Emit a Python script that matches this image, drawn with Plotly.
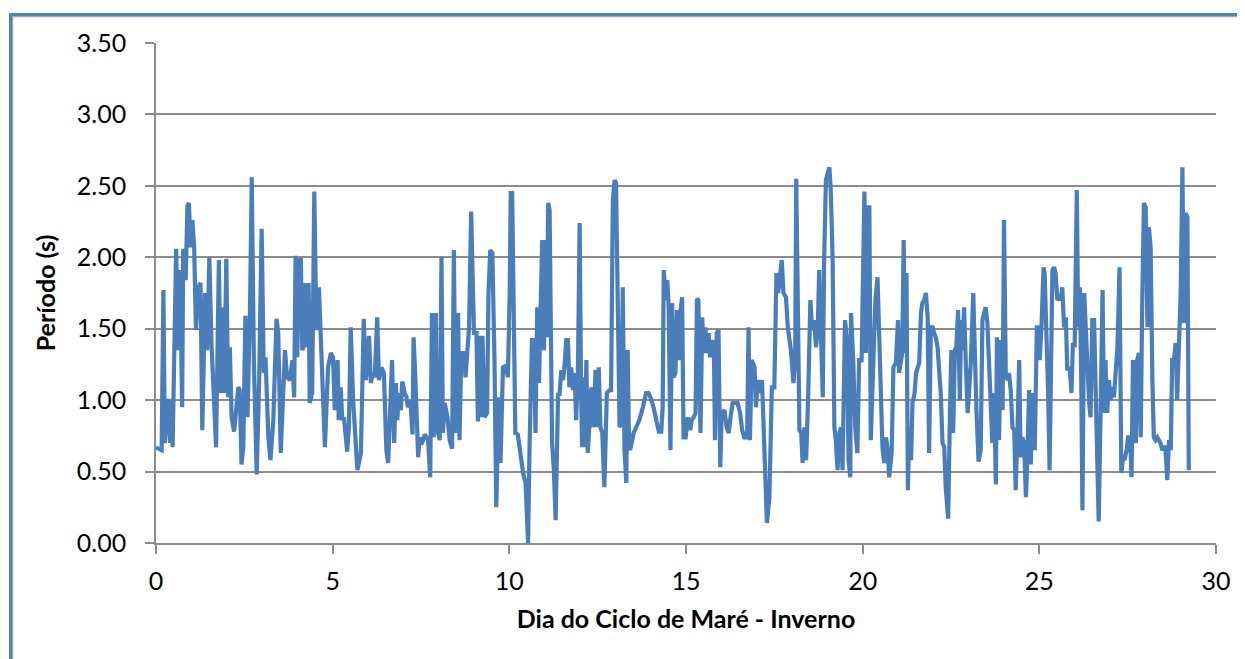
import plotly.graph_objects as go

# Dia do ciclo de maré (inverno) and período (s)
day = [
 0.00,0.16,0.21,0.25,0.35,0.40,0.44,0.47,0.57,0.63,0.68,0.74,0.77,0.84,0.89,0.93,0.98,1.03,1.08,1.13,
 1.20,1.26,1.31,1.39,1.45,1.51,1.57,1.70,1.78,1.83,1.88,1.93,1.99,2.04,2.09,2.14,2.21,2.26,2.33,2.37,
 2.42,2.47,2.53,2.59,2.66,2.71,2.77,2.85,2.92,2.99,3.05,3.10,3.18,3.24,3.32,3.41,3.46,3.53,3.65,3.71,
 3.79,3.86,3.91,3.95,4.00,4.04,4.10,4.14,4.17,4.21,4.28,4.32,4.35,4.42,4.48,4.54,4.61,4.66,4.73,4.78,
 4.87,4.95,5.01,5.06,5.14,5.17,5.23,5.27,5.32,5.41,5.46,5.51,5.58,5.64,5.70,5.80,5.88,5.94,6.03,6.08,
 6.14,6.19,6.26,6.31,6.38,6.45,6.52,6.57,6.63,6.68,6.74,6.79,6.83,6.87,6.93,6.97,7.04,7.09,7.13,7.20,
 7.26,7.29,7.34,7.42,7.46,7.51,7.56,7.61,7.70,7.76,7.81,7.86,7.92,7.95,8.03,8.08,8.12,8.17,8.25,8.31,
 8.38,8.43,8.48,8.55,8.59,8.64,8.72,8.76,8.86,8.92,9.00,9.07,9.11,9.16,9.21,9.24,9.30,9.37,9.41,9.46,
 9.52,9.58,9.63,9.70,9.75,
 9.82,9.90,9.96,10.01,10.04,10.08,10.12,10.17,10.24,10.31,10.39,10.46,10.53,10.57,10.64,10.70,10.74,10.79,10.84,10.88,
 10.93,10.98,11.02,11.06,11.10,11.14,11.17,11.21,11.26,11.31,11.38,11.42,11.47,11.52,11.56,11.61,11.66,11.70,11.75,11.80,
 11.85,11.89,11.94,11.99,12.03,12.06,12.10,12.14,12.18,12.22,12.27,12.32,12.38,12.44,12.49,12.53,12.58,12.63,12.69,12.76,
 12.84,12.88,12.93,12.98,13.02,13.07,13.12,13.17,13.21,13.26,13.31,13.35,13.38,13.42,13.47,13.52,13.59,13.68,13.78,13.87,
 13.94,14.01,14.08,14.16,14.23,14.30,14.34,14.37,14.42,14.47,14.51,14.56,14.61,14.65,
 14.70,14.75,14.79,14.84,14.89,14.93,14.99,15.05,15.12,15.16,15.22,15.27,15.31,15.35,15.41,15.46,15.50,15.55,15.60,15.64,
 15.68,15.74,15.79,15.82,15.87,15.92,15.97,16.01,16.09,16.15,16.21,16.26,16.32,16.40,16.46,16.53,16.59,16.65,16.73,16.77,
 16.81,16.86,16.94,16.98,17.03,17.10,17.15,17.19,17.24,17.29,17.36,17.43,17.50,17.56,17.61,17.67,17.71,17.76,17.83,17.88,
 17.97,18.04,18.09,18.12,18.18,18.21,18.26,18.30,18.35,18.40,18.46,18.52,18.57,18.63,18.68,18.73,18.77,18.82,18.87,18.91,
 18.96,19.01,19.06,19.10,19.15,19.20,19.24,19.29,19.34,19.39,19.43,19.50,19.56,19.60,19.65,
 19.67,19.73,19.79,19.85,19.90,19.97,20.05,20.09,20.14,20.19,20.23,20.30,20.36,20.42,20.47,20.52,20.56,20.61,20.66,20.71,
 20.75,20.82,20.87,20.94,21.00,21.03,21.08,21.12,21.16,21.20,21.24,21.28,21.32,21.37,21.41,21.47,21.51,21.55,21.60,21.65,
 21.69,21.74,21.79,21.84,21.88,21.93,21.98,22.02,22.07,22.12,22.17,22.21,22.26,22.31,22.35,22.42,22.47,22.51,22.56,22.61,
 22.65,22.70,22.75,22.79,22.83,22.87,22.92,22.97,23.01,23.06,23.13,23.17,23.22,23.28,23.34,23.39,23.44,23.48,23.53,23.58,
 23.63,23.67,23.72,23.77,23.80,23.86,23.91,23.96,24.00,24.05,24.10,24.14,24.19,24.24,24.29,24.33,24.38,24.43,24.47,24.52,
 24.57,24.62,
 24.66,24.71,24.76,24.80,24.87,24.93,24.96,25.01,25.06,25.12,25.15,25.20,25.25,25.29,25.32,25.37,25.42,25.46,25.51,25.56,
 25.61,25.65,25.70,25.75,25.79,25.86,25.91,25.95,26.00,26.06,26.10,26.15,26.19,26.22,26.27,26.31,26.36,26.41,26.45,26.50,
 26.55,26.59,26.64,26.68,26.74,26.79,26.83,26.87,26.92,26.97,27.02,27.07,27.11,27.16,27.21,27.27,27.32,27.37,27.41,27.47,
 27.51,27.57,27.61,27.65,27.68,27.73,27.77,27.82,27.87,27.91,27.96,28.01,28.06,28.10,28.15,28.20,28.24,28.29,28.34,28.43,
 28.48,28.53,28.57,28.62,28.67,28.72,28.76,28.81,28.86,28.90,28.95,29.00,29.05,29.09,29.14,29.19,29.23,
]

period = [
 0.67,0.65,1.77,0.70,1.01,0.70,1.00,0.67,2.06,1.35,1.91,0.95,2.06,1.84,2.36,2.38,2.07,2.26,2.07,1.49,
 1.79,1.82,0.79,1.75,1.35,2.00,1.40,0.67,1.98,1.05,1.65,1.05,1.99,1.02,1.37,0.88,0.78,0.91,1.09,1.07,
 0.55,0.67,1.59,0.88,1.63,2.56,1.28,0.48,1.14,2.20,1.19,1.30,0.74,0.58,0.86,1.57,1.47,0.63,1.35,1.16,
 1.14,1.28,1.02,2.01,1.30,1.98,1.98,1.35,1.37,1.82,1.37,1.82,0.98,1.05,2.46,1.49,1.79,1.47,1.02,0.67,
 1.23,1.33,1.30,0.93,1.28,0.86,1.09,0.86,0.88,0.64,0.81,1.51,1.00,0.77,0.51,0.63,1.57,1.14,1.45,1.12,
 1.19,1.16,1.58,1.14,1.23,1.19,0.65,0.56,1.05,1.28,0.70,1.12,0.86,1.05,0.93,1.13,1.05,1.02,0.95,1.00,
 0.76,1.44,1.16,0.60,0.74,0.69,0.72,0.76,0.72,0.46,1.61,0.74,1.61,0.81,0.72,2.00,0.77,0.98,0.88,0.72,
 0.66,2.05,0.77,1.61,0.72,1.33,1.33,1.16,1.51,2.32,1.47,1.47,0.85,1.45,0.88,1.45,0.88,0.91,1.75,2.05,
 2.03,1.28,0.25,1.02,0.56,
 1.23,1.24,1.16,1.75,2.45,2.45,1.75,0.77,0.76,0.63,0.49,0.42,0.00,0.65,1.42,1.42,0.77,1.65,1.12,1.58,
 2.12,1.35,2.12,1.44,2.38,2.33,1.72,0.70,0.51,0.16,1.05,1.03,1.21,1.14,1.23,1.42,1.42,1.09,1.23,1.07,
 1.19,0.86,1.19,2.24,1.07,0.67,1.16,0.67,1.28,0.63,0.84,1.09,0.81,1.21,0.81,1.23,0.81,0.77,0.39,1.05,
 1.07,1.07,2.40,2.54,2.52,1.75,0.81,0.84,1.79,0.65,0.42,1.35,0.81,0.65,0.72,0.77,0.81,0.86,0.95,1.05,
 1.05,1.01,0.95,0.84,0.78,0.78,0.95,1.91,1.70,1.84,1.65,0.65,1.68,1.16,
 1.19,1.63,1.28,1.61,1.72,0.74,0.74,0.88,0.79,0.86,0.88,0.91,1.71,1.70,0.77,1.58,1.33,1.51,1.33,1.47,
 1.30,1.42,1.35,0.72,1.47,1.49,0.53,0.91,0.93,0.81,0.77,0.88,0.98,0.98,0.98,0.91,0.79,0.74,0.74,1.51,
 0.72,1.28,1.23,0.95,1.14,1.05,1.14,0.86,0.58,0.14,0.32,1.09,1.09,1.89,1.75,1.86,1.98,1.75,1.72,1.51,
 1.35,1.12,1.28,2.55,1.40,0.79,0.77,0.56,0.81,0.58,1.05,1.70,1.49,1.56,1.37,1.51,1.91,1.49,1.02,1.98,
 2.54,2.59,2.63,2.45,1.98,0.81,0.72,0.51,0.77,0.81,0.51,1.56,1.42,0.58,0.46,
 1.61,1.30,0.81,0.63,1.28,1.28,2.46,1.33,2.35,2.35,0.72,1.16,1.70,1.86,1.37,0.91,0.67,0.56,0.74,0.65,
 0.46,0.63,1.23,1.26,1.56,1.19,1.30,1.33,2.12,1.33,1.89,0.37,0.81,0.58,0.98,1.05,1.19,1.23,1.26,1.61,
 1.68,1.70,1.75,1.58,0.63,1.51,1.51,1.47,1.44,1.37,1.23,1.05,0.70,0.67,0.39,0.17,0.91,1.35,0.77,1.35,
 1.37,1.63,1.00,1.56,1.35,1.65,1.26,0.91,1.05,1.26,1.75,1.33,0.93,0.57,0.65,1.56,1.63,1.65,1.54,1.28,
 1.05,0.70,1.05,0.41,1.44,0.72,1.42,0.93,2.26,1.19,1.14,1.19,1.07,0.81,0.79,0.37,0.77,1.28,0.60,0.74,
 0.70,0.32,
 0.58,1.07,0.55,1.05,0.65,1.51,1.51,1.28,1.51,1.93,1.89,1.51,1.05,0.51,1.28,1.91,1.93,1.89,1.70,1.72,
 1.70,1.79,1.51,1.58,1.21,1.23,1.05,1.40,1.37,2.47,1.51,1.79,1.05,0.23,1.75,1.51,1.28,0.98,0.88,1.56,
 1.56,1.05,0.65,0.15,1.00,1.77,0.91,1.28,0.91,1.14,1.00,1.09,1.02,1.23,1.37,1.93,0.49,0.60,0.58,0.65,
 0.74,0.74,0.46,1.28,0.74,0.70,1.28,1.33,0.74,1.65,2.38,2.35,1.51,2.21,2.07,1.14,0.74,0.72,0.74,0.70,
 0.65,0.67,0.67,0.44,0.72,0.65,1.28,1.28,1.40,1.00,1.51,1.75,2.63,1.54,2.31,2.28,0.51,
]

x_ticks = [0, 5, 10, 15, 20, 25, 30]
y_ticks = [0.0, 0.5, 1.0, 1.5, 2.0, 2.5, 3.0, 3.5]
x_title = "Dia do Ciclo de Maré - Inverno"
y_title = "Período (s)"

FONT = "Lato, Carlito, Calibri, 'Open Sans', sans-serif"
GRID = "#8c8c8c"

# page body has an 8px margin: figure sized so it fits the window without overflow
FW, FH = 1237, 651
L, T, W, H = 148, 35, 1060, 500

fig = go.Figure()
fig.add_trace(go.Scatter(
    x=day, y=period, mode="lines",
    line=dict(color="#4A7EBB", width=4.2),
    hoverinfo="x+y", showlegend=False,
))

def px_x(fx):
    return (fx - L) / W

def px_y(fy):
    return (T + H - fy) / H

fig.update_layout(
    width=FW, height=FH,
    margin=dict(l=L, r=FW - L - W, t=T, b=FH - T - H),
    paper_bgcolor="white", plot_bgcolor="white",
    font=dict(family=FONT, size=25, color="black"),
    xaxis=dict(
        range=[0, 30], tickvals=x_ticks, ticktext=[str(v) for v in x_ticks],
        showgrid=False, zeroline=False,
        showline=True, linecolor=GRID, linewidth=1.5,
        ticks="outside", ticklen=9, tickcolor=GRID, tickwidth=1.5,
        ticklabelstandoff=6,
        tickfont=dict(size=25),
        title=dict(text=x_title, font=dict(size=25, family=FONT, weight="bold"), standoff=17),
    ),
    yaxis=dict(
        range=[0, 3.5], tickvals=y_ticks, ticktext=[f"{v:.2f}" for v in y_ticks],
        showgrid=True, gridcolor=GRID, gridwidth=1.5, zeroline=False,
        showline=True, linecolor=GRID, linewidth=1.5,
        ticks="outside", ticklen=9, tickcolor=GRID, tickwidth=1.5,
        ticklabelstandoff=14,
        tickfont=dict(size=25),
        title=dict(text=y_title, font=dict(size=25, family=FONT, weight="bold"), standoff=14),
    ),
    shapes=[
        dict(type="rect", xref="paper", yref="paper",
             x0=px_x(4.5), x1=px_x(1400), y0=px_y(900), y1=px_y(8.5),
             line=dict(color="#a6a6a6", width=1.5), fillcolor="rgba(0,0,0,0)", layer="below"),
        dict(type="rect", xref="paper", yref="paper",
             x0=px_x(2.5), x1=px_x(1400), y0=px_y(900), y1=px_y(6.5),
             line=dict(color="#4F81BD", width=3), fillcolor="rgba(0,0,0,0)", layer="below"),
    ],
)

fig.write_html("out.html")
